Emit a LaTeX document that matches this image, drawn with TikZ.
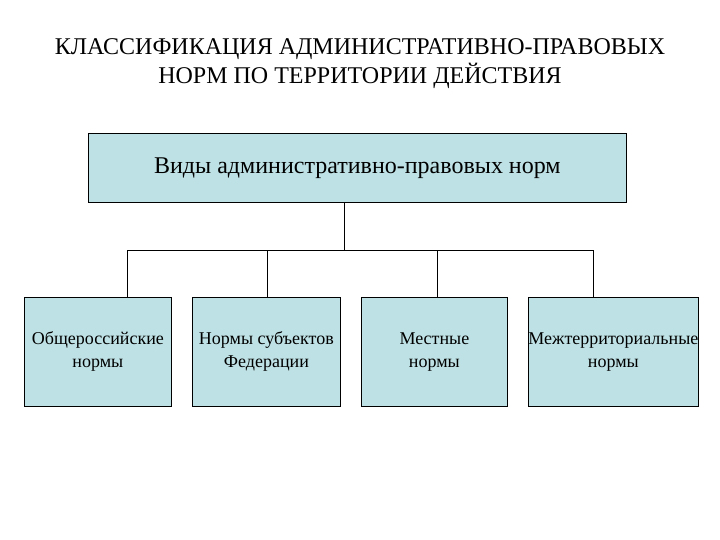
\documentclass[tikz,border=0pt]{standalone}
\usepackage{fontspec}
\setmainfont{Liberation Serif}
\definecolor{boxfill}{RGB}{190,225,229}
\begin{document}
\begin{tikzpicture}[x=1pt,y=-1pt,
  bx/.style={draw=black,fill=boxfill,line width=0.8pt,align=center,font=\fontsize{18}{23}\selectfont,anchor=north west,inner sep=0pt},
  ln/.style={draw=black,line width=0.8pt}]
\useasboundingbox (0,0) rectangle (720,540);
\node[align=center,font=\fontsize{24}{29}\selectfont] (title) at (360,64) {КЛАССИФИКАЦИЯ АДМИНИСТРАТИВНО-ПРАВОВЫХ\\НОРМ ПО ТЕРРИТОРИИ ДЕЙСТВИЯ};
\node[bx,minimum width=538pt,minimum height=69pt,font=\fontsize{24}{28}\selectfont] (top) at (88,133) {Виды административно-правовых норм};
\node[bx,minimum width=147pt,minimum height=109pt] (b1) at (24,297) {Общероссийские\\нормы};
\node[bx,minimum width=148pt,minimum height=109pt] (b2) at (192,297) {Нормы субъектов\\Федерации};
\node[bx,minimum width=146pt,minimum height=109pt] (b3) at (361,297) {Местные\\нормы};
\node[bx,minimum width=169pt,minimum height=109pt] (b4) at (528,297) {Межтерриториальные\\нормы};
\coordinate (j) at (344,250);
\draw[ln] (top.south -| j) -- (j);
\draw[ln] (127,250) coordinate (h1) -- (593,250) coordinate (h4);
\draw[ln] (h1) -- (h1 |- b1.north);
\draw[ln] (267,250) -- (267,297 |- b2.north);
\draw[ln] (437,250) -- (437,297 |- b3.north);
\draw[ln] (h4) -- (h4 |- b4.north);
\end{tikzpicture}
\end{document}
